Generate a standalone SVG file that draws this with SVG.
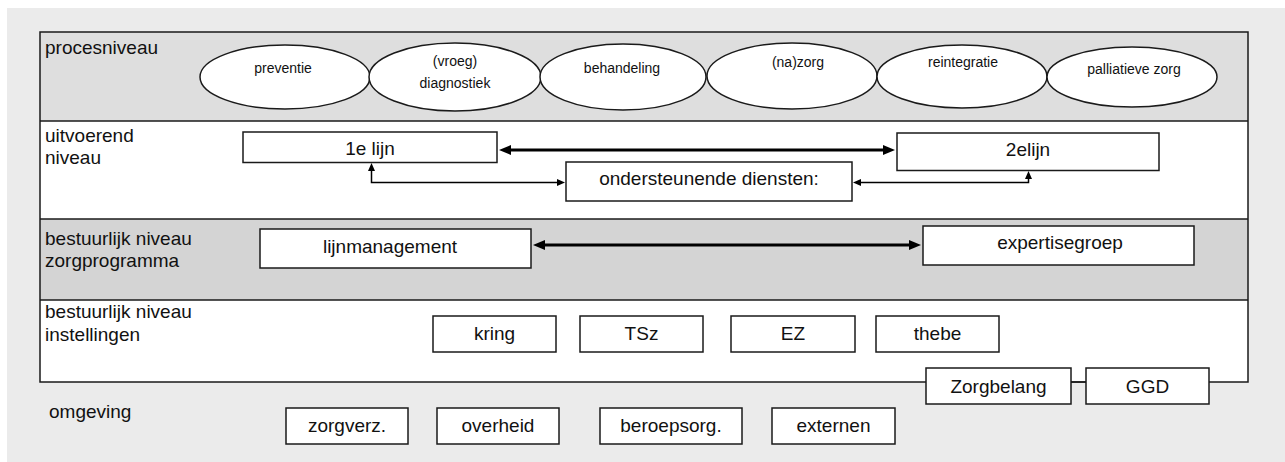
<svg xmlns="http://www.w3.org/2000/svg" width="1285" height="462" viewBox="0 0 1285 462">
<style>
text{font-family:"Liberation Sans",Arial,sans-serif;fill:#111}
.lbl{font-size:19px}
.bx{font-size:19px;text-anchor:middle}
.el{font-size:14px;text-anchor:middle}
.box{fill:#fff;stroke:#1a1a1a;stroke-width:1.5}
.ell{fill:#fff;stroke:#1a1a1a;stroke-width:1.5}
.thick{stroke:#000;stroke-width:3;fill:none}
.thin{stroke:#000;stroke-width:1.5;fill:none}
</style>
<defs>
<marker id="ahb" viewBox="0 0 12 10" refX="2" refY="5" markerWidth="12" markerHeight="10" markerUnits="userSpaceOnUse" orient="auto-start-reverse"><path d="M0,0 L12,5 L0,10 z" fill="#000"/></marker>
<marker id="ahs" viewBox="0 0 8 7" refX="1" refY="3.5" markerWidth="8" markerHeight="7" markerUnits="userSpaceOnUse" orient="auto-start-reverse"><path d="M0,0 L8,3.5 L0,7 z" fill="#000"/></marker>
</defs>
<rect x="7" y="8" width="1278" height="454" fill="#ebebeb"/>
<g id="frame">
<rect x="40" y="32" width="1208" height="350" fill="#fff"/>
<rect x="40" y="32" width="1208" height="89" fill="#dedede"/>
<rect x="40" y="219" width="1208" height="81" fill="#d4d4d4"/>
<line x1="40" y1="121" x2="1248" y2="121" stroke="#1a1a1a" stroke-width="1.5"/>
<line x1="40" y1="219" x2="1248" y2="219" stroke="#1a1a1a" stroke-width="1.5"/>
<line x1="40" y1="300" x2="1248" y2="300" stroke="#1a1a1a" stroke-width="1.5"/>
<rect x="40" y="32" width="1208" height="350" fill="none" stroke="#1a1a1a" stroke-width="1.5"/>
</g>
<g id="labels">
<text class="lbl" x="45" y="54">procesniveau</text>
<text class="lbl" x="45" y="142">uitvoerend</text>
<text class="lbl" x="45" y="164">niveau</text>
<text class="lbl" x="45" y="245">bestuurlijk niveau</text>
<text class="lbl" x="45" y="267">zorgprogramma</text>
<text class="lbl" x="45" y="318">bestuurlijk niveau</text>
<text class="lbl" x="45" y="341">instellingen</text>
<text class="lbl" x="49" y="418">omgeving</text>
</g>
<g id="n-preventie"><ellipse class="ell" cx="285" cy="77" rx="85" ry="32"/><text class="el" x="283" y="73">preventie</text></g>
<g id="n-diagnostiek"><ellipse class="ell" cx="455" cy="77" rx="86" ry="34"/><text class="el" x="455" y="66">(vroeg)</text><text class="el" x="455" y="88">diagnostiek</text></g>
<g id="n-behandeling"><ellipse class="ell" cx="623" cy="77" rx="83" ry="33"/><text class="el" x="622" y="73">behandeling</text></g>
<g id="n-nazorg"><ellipse class="ell" cx="792" cy="76" rx="85" ry="33"/><text class="el" x="798" y="67">(na)zorg</text></g>
<g id="n-reintegratie"><ellipse class="ell" cx="962" cy="76.5" rx="85" ry="31.5"/><text class="el" x="963" y="67">reintegratie</text></g>
<g id="n-palliatieve"><ellipse class="ell" cx="1132" cy="77" rx="85" ry="30"/><text class="el" x="1134" y="74">palliatieve zorg</text></g>
<g id="n-1elijn"><rect class="box" x="243" y="132" width="254" height="30.5"/><text class="bx" x="370" y="155">1e lijn</text></g>
<g id="n-2elijn"><rect class="box" x="897" y="133" width="262" height="37.5"/><text class="bx" x="1028" y="156">2elijn</text></g>
<g id="n-ondersteunend"><rect class="box" x="566" y="162" width="286" height="39"/><text class="bx" x="709" y="185">ondersteunende diensten:</text></g>
<g id="n-lijnmanagement"><rect class="box" x="260" y="229" width="271" height="39"/><text class="bx" x="390" y="253">lijnmanagement</text></g>
<g id="n-expertisegroep"><rect class="box" x="923" y="226" width="271" height="39"/><text class="bx" x="1060" y="249">expertisegroep</text></g>
<g id="n-kring"><rect class="box" x="433" y="316" width="123" height="36"/><text class="bx" x="494.5" y="340">kring</text></g>
<g id="n-tsz"><rect class="box" x="580" y="316" width="123" height="36"/><text class="bx" x="641.5" y="340">TSz</text></g>
<g id="n-ez"><rect class="box" x="731" y="316" width="124" height="36"/><text class="bx" x="793" y="340">EZ</text></g>
<g id="n-thebe"><rect class="box" x="876" y="316" width="123" height="36"/><text class="bx" x="937.5" y="340">thebe</text></g>
<g id="n-zorgbelang"><rect class="box" x="926" y="368" width="145" height="36"/><text class="bx" x="998.5" y="393">Zorgbelang</text></g>
<g id="n-ggd"><rect class="box" x="1086" y="368" width="123" height="36"/><text class="bx" x="1147.5" y="393">GGD</text></g>
<g id="n-zorgverz"><rect class="box" x="286" y="408" width="122" height="36"/><text class="bx" x="347" y="432">zorgverz.</text></g>
<g id="n-overheid"><rect class="box" x="437" y="408" width="122" height="36"/><text class="bx" x="498" y="432">overheid</text></g>
<g id="n-beroepsorg"><rect class="box" x="600" y="408" width="142" height="36"/><text class="bx" x="671" y="432">beroepsorg.</text></g>
<g id="n-externen"><rect class="box" x="772" y="408" width="123" height="36"/><text class="bx" x="833.5" y="432">externen</text></g>
<g id="connectors">
<line class="thick" x1="509" y1="150" x2="885" y2="150" marker-start="url(#ahb)" marker-end="url(#ahb)"/>
<line class="thick" x1="543" y1="245" x2="911" y2="245" marker-start="url(#ahb)" marker-end="url(#ahb)"/>
<path class="thin" d="M371.5,170 V182.5 H558" marker-start="url(#ahs)" marker-end="url(#ahs)"/>
<path class="thin" d="M860,182.5 H1028.5 V178" marker-start="url(#ahs)" marker-end="url(#ahs)"/>
<line x1="1071" y1="382" x2="1086" y2="382" stroke="#1a1a1a" stroke-width="1.5"/>
</g>
</svg>
